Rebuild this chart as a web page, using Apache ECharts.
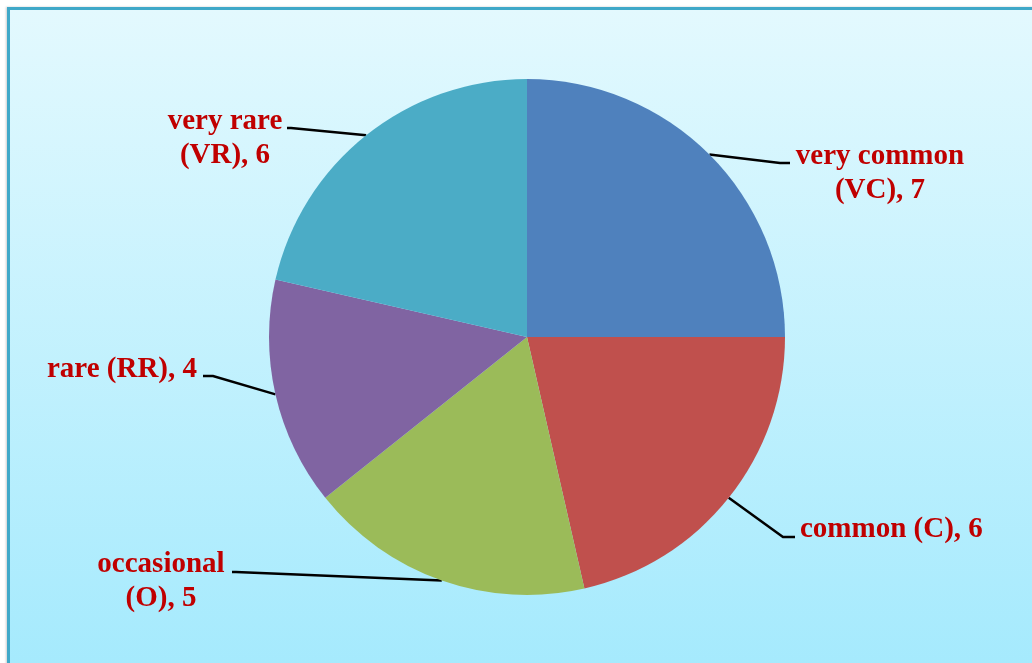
<!DOCTYPE html>
<html>
<head>
<meta charset="utf-8">
<script src="https://cdn.jsdelivr.net/npm/echarts@6/dist/echarts.min.js"></script>
<style>
  html, body { margin: 0; padding: 0; background: #fff; overflow: hidden; }
  #frame {
    position: absolute; left: 7px; top: 7px; width: 1060px; height: 700px;
    border: 3px solid #3fa8c8;
    background: linear-gradient(to bottom, #e3f9fe 0%, #a1e9fd 100%);
    box-shadow: -1px 0 2px rgba(0,0,0,0.2);
  }
  #main { position: absolute; left: 0; top: 0; width: 1032px; height: 663px; }
</style>
</head>
<body>
<div id="frame"></div>
<div id="main"></div>
<script>
// frequency classes, clockwise from 12 o'clock
const categories = ['very common\n(VC)', 'common (C)', 'occasional\n(O)', 'rare (RR)', 'very rare\n(VR)'];
const counts = [7, 6, 5, 4, 6];
const colors = ['#4f81bd', '#c0504d', '#9bbb59', '#8064a2', '#4bacc6'];

// where each label sits and where its leader line ends (Excel-style manual placement)
const labelPlace = [
  { x: 880, y: 140, align: 'center', end: [790, 163], elbow: [780, 163] },
  { x: 800, y: 513, align: 'left',   end: [795, 537], elbow: [783, 537] },
  { x: 161, y: 548, align: 'center', end: [232, 572], elbow: [236, 572] },
  { x: 197, y: 353, align: 'right',  end: [203, 376], elbow: [213, 376] },
  { x: 225, y: 105, align: 'center', end: [287, 128], elbow: [291, 128] }
];

const chart = echarts.init(document.getElementById('main'));
chart.setOption({
  backgroundColor: 'transparent',
  animation: false,
  series: [{
    type: 'pie',
    center: [527, 337],
    radius: 258,
    startAngle: 90,
    clockwise: true,
    avoidLabelOverlap: false,
    data: categories.map((c, i) => ({ name: c, value: counts[i], itemStyle: { color: colors[i] } })),
    label: {
      show: true,
      formatter: '{b}, {c}',
      fontFamily: '"Liberation Serif", "Times New Roman", serif',
      fontWeight: 'bold',
      fontSize: 29,
      lineHeight: 34,
      color: '#c00000',
      align: 'center'
    },
    labelLine: {
      show: true,
      lineStyle: { color: '#000', width: 2.5 }
    },
    labelLayout: function (params) {
      const p = labelPlace[params.dataIndex];
      const start = params.labelLinePoints ? params.labelLinePoints[0] : p.elbow;
      return {
        x: p.x, y: p.y, align: p.align, verticalAlign: 'top',
        labelLinePoints: [start, p.elbow, p.end]
      };
    }
  }]
});
</script>
</body>
</html>
